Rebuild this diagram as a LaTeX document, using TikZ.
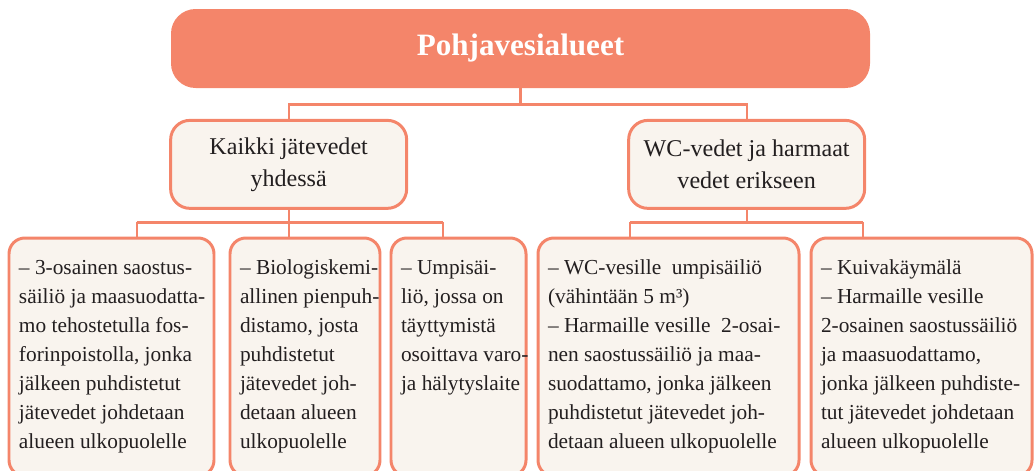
\documentclass[tikz,border=0pt]{standalone}
\usepackage{fontspec}
\setmainfont{Liberation Serif}
\usepackage{tikz}
\usetikzlibrary{positioning, calc}
\definecolor{salmon}{RGB}{244, 133, 106}
\definecolor{cream}{RGB}{249, 244, 238}
\definecolor{inkgray}{RGB}{35, 31, 32}
\newcommand{\leaftext}[2]{\parbox[t][4.1cm][t]{#1}{\strut\begin{tabular}[t]{@{}l@{}}#2\end{tabular}}}

\begin{document}
\begin{tikzpicture}[
        node distance=0.24cm and 0.24cm,
        headbox/.style={rectangle, fill=salmon, text=white, rounded corners=14pt, minimum width=13.98cm, minimum height=1.58cm, font=\bfseries\fontsize{17.7}{20}\selectfont},
        groupbox/.style={rectangle, draw=salmon, fill=cream, line width=1.7pt, outer sep=0pt, text=inkgray, align=center, rounded corners=11pt, minimum width=4.72cm, minimum height=1.76cm, font=\fontsize{13.7}{18.2}\selectfont},
        leafbox/.style={rectangle, draw=salmon, fill=cream, line width=1.7pt, outer sep=0pt, text=inkgray, rounded corners=9pt, inner xsep=0.2cm, inner ysep=0.33cm, font=\fontsize{12.15}{16.5}\selectfont},
        link/.style={draw=salmon, line width=1.3pt}
    ]
        \useasboundingbox (0,0) rectangle (20.7,-9.4);
        \clip (0,0) rectangle (20.7,-9.4);

        \node[headbox] (area) at (10.41,-0.97) {Pohjavesialueet};
        \node[groupbox, below=0.64cm of area.south west, anchor=north west] (together) {Kaikki jätevedet\\yhdessä};
        \node[groupbox, right=4.44cm of together] (separate) {WC-vedet ja harmaat\\vedet erikseen};

        \node[leafbox, anchor=north west] (septic) at (0.18,-4.76) {\leaftext{3.7cm}{– 3-osainen saostus-\\säiliö ja maasuodatta-\\mo tehostetulla fos-\\forinpoistolla, jonka\\jälkeen puhdistetut\\jätevedet johdetaan\\alueen ulkopuolelle}};
        \node[leafbox, right=0.32cm of septic] (biochem) {\leaftext{2.6cm}{– Biologiskemi-\\allinen pienpuh-\\distamo, josta\\puhdistetut\\jätevedet joh-\\detaan alueen\\ulkopuolelle}};
        \node[leafbox, right=0.22cm of biochem] (holding) {\leaftext{2.3cm}{– Umpisäi-\\liö, jossa on\\täyttymistä\\osoittava varo-\\ja hälytyslaite}};
        \node[leafbox, right=of holding] (wcholding) {\leaftext{4.82cm}{– WC-vesille~ umpisäiliö\\(vähintään 5 m³)\\– Harmaille vesille~ 2-osai-\\nen saostussäiliö ja maa-\\suodattamo, jonka jälkeen\\puhdistetut jätevedet joh-\\detaan alueen ulkopuolelle}};
        \node[leafbox, right=of wcholding] (drytoilet) {\leaftext{4.02cm}{– Kuivakäymälä\\– Harmaille vesille\\2-osainen saostussäiliö\\ja maasuodattamo,\\jonka jälkeen puhdiste-\\tut jätevedet johdetaan\\alueen ulkopuolelle}};

        \coordinate (topjoin) at ($(area.south)+(0,-0.32)$);
        \coordinate (leftjoin) at ($(together.south)+(0,-0.28)$);
        \coordinate (rightjoin) at ($(separate.south)+(0,-0.28)$);

        \draw[link] (area.south) -- (topjoin);
        \draw[link] (topjoin) -| (together.north);
        \draw[link] (topjoin) -| (separate.north);

        \draw[link] (together.south) -- (leftjoin);
        \draw[link] ([xshift=-3.04cm]leftjoin) -- ([xshift=3.08cm]leftjoin);
        \draw[link] ([xshift=-3.04cm]leftjoin) -- ([xshift=-3.04cm]leftjoin |- septic.north);
        \draw[link] (leftjoin) -- (leftjoin |- biochem.north);
        \draw[link] ([xshift=3.08cm]leftjoin) -- ([xshift=3.08cm]leftjoin |- holding.north);

        \draw[link] (separate.south) -- (rightjoin);
        \draw[link] ([xshift=-2.33cm]rightjoin) -- ([xshift=2.33cm]rightjoin);
        \draw[link] ([xshift=-2.33cm]rightjoin) -- ([xshift=-2.33cm]rightjoin |- wcholding.north);
        \draw[link] ([xshift=2.33cm]rightjoin) -- ([xshift=2.33cm]rightjoin |- drytoilet.north);
    \end{tikzpicture}
\end{document}
